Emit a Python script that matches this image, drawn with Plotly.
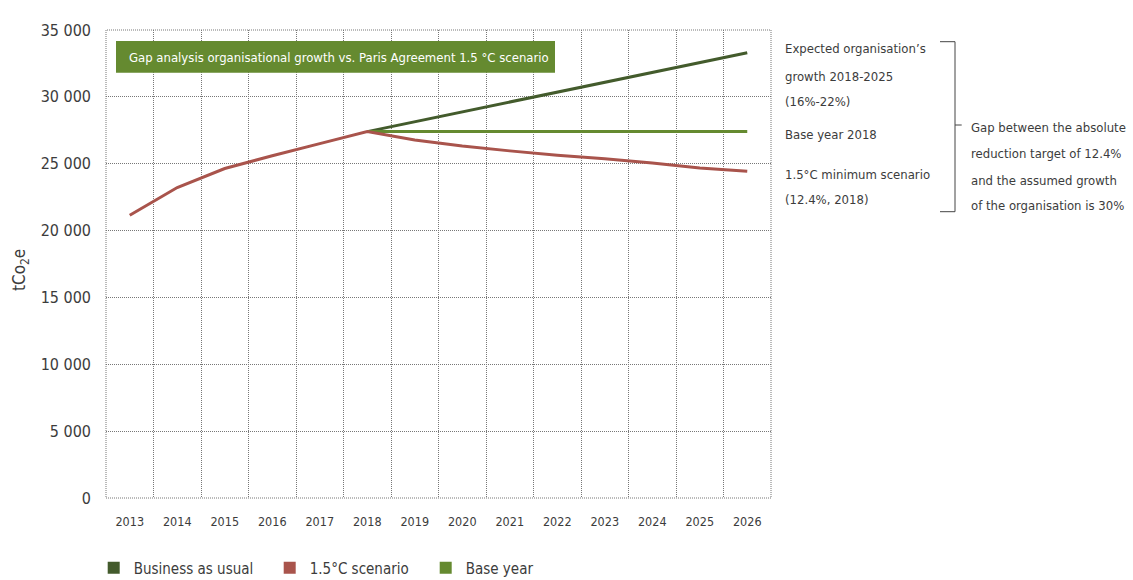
import plotly.graph_objects as go

years = [str(y) for y in range(2013, 2027)]
bau = [None, None, None, None, None, 27400, 28140, 28880, 29610, 30350, 31090, 31830, 32560, 33300]
scenario_15 = [21150, 23220, 24640, 25600, 26500, 27400, 26780, 26320, 25960, 25640, 25380, 25060, 24680, 24430]
base_year = [None, None, None, None, None, 27400, 27400, 27400, 27400, 27400, 27400, 27400, 27400, 27400]

y_tickvals = [0, 5000, 10000, 15000, 20000, 25000, 30000, 35000]
y_ticktext = ["0", "5 000", "10 000", "15 000", "20 000", "25 000", "30 000", "35 000"]

series_names = ["Business as usual", "1.5°C scenario", "Base year"]
colors = ["#435b2c", "#a9544c", "#658a30"]

FONT = "DejaVu Sans Condensed, Liberation Sans Narrow, Arial Narrow, sans-serif"
TXT = "#3c3c3c"
GRID = "#777777"

# plot area in pixels
L, R, T, B = 106, 771, 30, 498
W, H = R - L, B - T


def px(x):
    return (x - L) / W


def py(y):
    return (B - y) / H


fig = go.Figure()
fig.add_trace(go.Scatter(x=years, y=bau, mode="lines", line=dict(color=colors[0], width=3),
                         showlegend=False))
fig.add_trace(go.Scatter(x=years, y=base_year, mode="lines", line=dict(color=colors[2], width=3),
                         showlegend=False))
fig.add_trace(go.Scatter(x=years, y=scenario_15, mode="lines", line=dict(color=colors[1], width=3),
                         showlegend=False))
legend_ids = ["legend", "legend2", "legend3"]
for name, c, lg in zip(series_names, colors, legend_ids):
    fig.add_trace(go.Scatter(x=[None], y=[None], mode="markers", name=name, legend=lg,
                             marker=dict(symbol="square", size=13, color=c)))

fig.update_xaxes(type="category", range=[-0.5, 13.5], tickson="boundaries", showgrid=True,
                 gridcolor=GRID, griddash="1px,1px", gridwidth=1, ticks="", showline=False,
                 zeroline=False, tickfont=dict(family=FONT, size=12.5, color=TXT),
                 ticklabelstandoff=14)
fig.update_yaxes(range=[0, 35000], tickvals=y_tickvals, ticktext=y_ticktext, showgrid=True,
                 gridcolor=GRID, griddash="1px,1px", gridwidth=1, ticks="", zeroline=False,
                 showline=False, tickfont=dict(family=FONT, size=16, color=TXT),
                 ticklabelstandoff=14)

shapes = [
    dict(type="rect", xref="paper", yref="paper", x0=0, x1=1, y0=0, y1=1,
         line=dict(color=GRID, width=1, dash="1px,1px")),
    dict(type="rect", xref="paper", yref="paper", x0=px(116), x1=px(555), y0=py(41), y1=py(72.7),
         fillcolor="#658a30", line=dict(width=0)),
]
bk = "#444"
for (x0, y0, x1, y1) in [(940, 41.7, 955, 41.7), (955, 41.7, 955, 211.7), (940, 211.7, 955, 211.7),
                         (955, 125, 961.7, 125)]:
    shapes.append(dict(type="line", xref="paper", yref="paper", x0=px(x0), x1=px(x1),
                       y0=py(y0), y1=py(y1), line=dict(color=bk, width=1)))

annotations = [
    dict(text="Gap analysis organisational growth vs. Paris Agreement 1.5 °C scenario",
         xref="paper", yref="paper", x=px(127), y=py(57), xanchor="left", yanchor="middle",
         showarrow=False, font=dict(family=FONT, size=13, color="white")),
    dict(text="tCo<sub>2</sub>e", xref="paper", yref="paper", x=px(20), y=py(270),
         textangle=-90, showarrow=False, xanchor="center", yanchor="middle",
         font=dict(family=FONT, size=17, color=TXT)),
]
right_lines = [
    ("Expected organisation’s", 782.7, 49), ("growth 2018-2025", 782.7, 76), ("(16%-22%)", 782.7, 101),
    ("Base year 2018", 782.7, 134.5), ("1.5°C minimum scenario", 782.7, 174.5), ("(12.4%, 2018)", 782.7, 199.5),
    ("Gap between the absolute", 969.3, 127), ("reduction target of 12.4%", 969.3, 153.5),
    ("and the assumed growth", 969.3, 180), ("of the organisation is 30%", 969.3, 205),
]
for t, x, y in right_lines:
    annotations.append(dict(text=t, xref="paper", yref="paper", x=px(x), y=py(y),
                            xanchor="left", yanchor="middle", showarrow=False,
                            font=dict(family=FONT, size=13, color=TXT)))

legend_style = dict(orientation="h", xanchor="left", y=py(568), yanchor="middle",
                    font=dict(family=FONT, size=15, color=TXT), itemsizing="constant",
                    bgcolor="rgba(0,0,0,0)")
fig.update_layout(
    width=1133, height=580, autosize=False,
    margin=dict(l=L, r=1133 - R, t=T, b=580 - B, autoexpand=False),
    plot_bgcolor="white", paper_bgcolor="white",
    shapes=shapes, annotations=annotations,
    legend=dict(x=px(93.7), **legend_style),
    legend2=dict(x=px(269.7), **legend_style),
    legend3=dict(x=px(425.7), **legend_style),
)

fig.write_html("out.html", config={"displayModeBar": False},
               post_script="document.body.style.margin='0';")
